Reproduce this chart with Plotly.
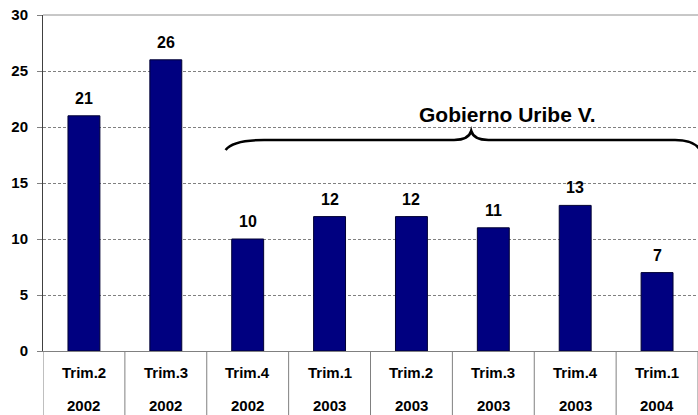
import plotly.graph_objects as go

trimestres = ["Trim.2", "Trim.3", "Trim.4", "Trim.1", "Trim.2", "Trim.3", "Trim.4", "Trim.1"]
anios = ["2002", "2002", "2002", "2003", "2003", "2003", "2003", "2004"]
valores = [21, 26, 10, 12, 12, 11, 13, 7]
etiqueta_gobierno = "Gobierno Uribe V."
y_ticks = [0, 5, 10, 15, 20, 25, 30]

FONT = "Liberation Sans, Arial, sans-serif"
idx = list(range(len(valores)))

fig = go.Figure()
fig.add_trace(go.Bar(
    x=idx, y=valores,
    marker=dict(color="#000080", line=dict(color="#000033", width=1)),
    width=0.39,
    hoverinfo="skip",
))

ann = []
for i, v in zip(idx, valores):
    ann.append(dict(x=i, y=v, xref="x", yref="y", text=str(v), showarrow=False,
                    yanchor="bottom", yshift=7,
                    font=dict(family=FONT, size=16, color="black", weight="bold")))
for i, (t, a) in enumerate(zip(trimestres, anios)):
    ann.append(dict(x=i, y=0, xref="x", yref="paper", text=t, showarrow=False,
                    yanchor="middle", yshift=-21,
                    font=dict(family=FONT, size=15, color="black", weight="bold")))
    ann.append(dict(x=i, y=0, xref="x", yref="paper", text=a, showarrow=False,
                    yanchor="middle", yshift=-54,
                    font=dict(family=FONT, size=15, color="black", weight="bold")))
ann.append(dict(x=5.17, y=21.1, xref="x", yref="y", text=etiqueta_gobierno, showarrow=False,
                yanchor="middle",
                font=dict(family=FONT, size=21, color="black", weight="bold")))

shapes = []
# category separators below the axis
for k in range(len(valores) + 1):
    shapes.append(dict(type="line", xref="x", yref="paper", x0=k - 0.5, x1=k - 0.5,
                       y0=0, y1=-0.2, line=dict(color="#808080", width=1)))
# top border
shapes.append(dict(type="line", xref="paper", yref="paper", x0=0, x1=1, y0=1, y1=1,
                   line=dict(color="#909090", width=1)))
# brace
brace = ("M 1.73,17.95 Q 1.82,18.84 2.2,18.84 L 4.52,18.84 "
         "Q 4.70,18.84 4.73,19.65 Q 4.76,18.84 4.94,18.84 "
         "L 7.22,18.84 Q 7.45,18.84 7.52,18.0")
shapes.append(dict(type="path", xref="x", yref="y", path=brace,
                   line=dict(color="black", width=2.6)))

fig.update_layout(
    width=698, height=415,
    margin=dict(l=43, r=0, t=15, b=64, autoexpand=False),
    paper_bgcolor="white", plot_bgcolor="white",
    showlegend=False,
    font=dict(family=FONT, size=14, color="black"),
    annotations=ann, shapes=shapes,
    xaxis=dict(range=[-0.5, 7.5], showticklabels=False, showgrid=False,
               zeroline=False, showline=True, linecolor="#808080", linewidth=1,
               ticks="", fixedrange=True, automargin=False),
    yaxis=dict(range=[0, 30], tickvals=y_ticks, showgrid=True, gridcolor="#808080",
               griddash="3px,2px", gridwidth=1, zeroline=False,
               showline=True, linecolor="#404040", linewidth=1,
               ticks="outside", ticklen=5, tickcolor="#808080",
               tickfont=dict(family=FONT, size=15, color="black", weight="bold"),
               ticklabelstandoff=6, fixedrange=True, automargin=False),
)

fig.write_html("out.html", config={"displayModeBar": False},
               post_script="document.body.style.margin='0';document.body.style.overflow='hidden';")
